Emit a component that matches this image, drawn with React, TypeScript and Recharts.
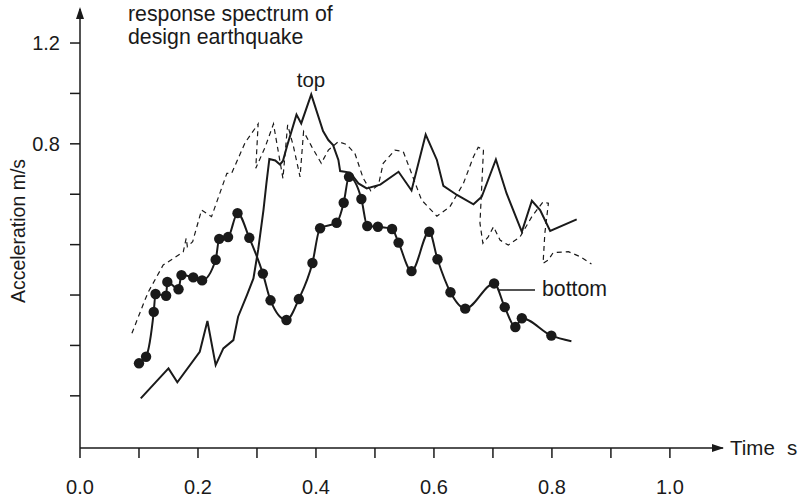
import React from "react";
import { LineChart, Line, XAxis, YAxis } from "recharts";

// bottom response (with dots)
const bottomT = [0.1, 0.112, 0.125, 0.128, 0.146, 0.148, 0.167, 0.172, 0.192, 0.207, 0.23, 0.236, 0.251, 0.267, 0.287, 0.31, 0.323, 0.35, 0.371, 0.394, 0.407, 0.435, 0.447, 0.456, 0.477, 0.487, 0.505, 0.529, 0.54, 0.562, 0.592, 0.606, 0.628, 0.653, 0.702, 0.72, 0.738, 0.749, 0.799, 0.833];
const bottomA = [-0.071, -0.045, 0.133, 0.204, 0.197, 0.252, 0.223, 0.279, 0.27, 0.258, 0.34, 0.423, 0.43, 0.525, 0.427, 0.285, 0.179, 0.101, 0.184, 0.327, 0.465, 0.487, 0.566, 0.669, 0.581, 0.474, 0.471, 0.462, 0.408, 0.295, 0.451, 0.342, 0.211, 0.146, 0.246, 0.152, 0.073, 0.108, 0.039, 0.017];

// top response (solid)
const topT = [0.103, 0.15, 0.165, 0.203, 0.216, 0.23, 0.243, 0.26, 0.268, 0.283, 0.294, 0.302, 0.311, 0.316, 0.321, 0.331, 0.339, 0.344, 0.351, 0.367, 0.375, 0.392, 0.412, 0.421, 0.429, 0.438, 0.441, 0.458, 0.472, 0.486, 0.509, 0.54, 0.562, 0.586, 0.605, 0.616, 0.639, 0.667, 0.681, 0.705, 0.723, 0.749, 0.766, 0.78, 0.797, 0.842];
const topA = [-0.21, -0.091, -0.146, -0.025, 0.097, -0.078, -0.012, 0.021, 0.114, 0.2, 0.266, 0.379, 0.537, 0.643, 0.74, 0.734, 0.718, 0.732, 0.791, 0.916, 0.881, 0.996, 0.851, 0.815, 0.795, 0.736, 0.692, 0.686, 0.643, 0.623, 0.638, 0.689, 0.615, 0.837, 0.736, 0.633, 0.597, 0.56, 0.59, 0.738, 0.604, 0.451, 0.574, 0.537, 0.454, 0.5];

// response spectrum of design earthquake (dashed)
const specT = [0.088, 0.11, 0.116, 0.141, 0.175, 0.18, 0.182, 0.191, 0.206, 0.223, 0.249, 0.257, 0.28, 0.302, 0.298, 0.314, 0.328, 0.344, 0.352, 0.362, 0.373, 0.379, 0.393, 0.409, 0.421, 0.438, 0.452, 0.466, 0.48, 0.493, 0.506, 0.514, 0.534, 0.548, 0.562, 0.579, 0.605, 0.627, 0.65, 0.667, 0.675, 0.684, 0.681, 0.678, 0.683, 0.692, 0.701, 0.712, 0.726, 0.746, 0.766, 0.785, 0.794, 0.788, 0.785, 0.794, 0.802, 0.828, 0.848, 0.867];
const specA = [0.048, 0.18, 0.213, 0.319, 0.371, 0.425, 0.392, 0.412, 0.537, 0.511, 0.683, 0.683, 0.805, 0.879, 0.703, 0.788, 0.879, 0.663, 0.875, 0.788, 0.669, 0.849, 0.788, 0.723, 0.775, 0.809, 0.797, 0.762, 0.664, 0.613, 0.637, 0.723, 0.775, 0.769, 0.683, 0.577, 0.513, 0.55, 0.643, 0.749, 0.786, 0.778, 0.63, 0.485, 0.405, 0.431, 0.471, 0.418, 0.398, 0.431, 0.511, 0.57, 0.564, 0.445, 0.326, 0.339, 0.368, 0.372, 0.352, 0.323];

const xTicks = [0, 0.1, 0.2, 0.3, 0.4, 0.5, 0.6, 0.7, 0.8, 0.9, 1.0];
const xLabelled = [0, 0.2, 0.4, 0.6, 0.8, 1.0];
const yTicks = [-0.2, 0, 0.2, 0.4, 0.6, 0.8, 1.0, 1.2];
const yLabelled = [0.8, 1.2];

const X_MAX = 1.09;
const Y_MIN = -0.407;
const Y_MAX = 1.335;

const zip = (ts: number[], as: number[]) => ts.map((t, i) => ({ t, a: as[i] }));
const bottomData = zip(bottomT, bottomA);
const topData = zip(topT, topA);
const specData = zip(specT, specA);

const ink = "#1a1a1a";

const fmt = (list: number[]) => (v: number) =>
	list.some((l) => Math.abs(l - v) < 1e-9) ? v.toFixed(1) : "";

const BottomDot = (props: any) => {
	const { cx, cy, index } = props;
	if (index >= bottomData.length - 1) return <g key={`d-${index}`} />;
	return <circle key={`d-${index}`} cx={cx} cy={cy} r={5.2} fill={ink} stroke="none" />;
};

export default function App() {
	return (
		<div style={{ position: "absolute", left: 0, top: 0, fontFamily: "'Liberation Sans', Arial, sans-serif" }}>
			<LineChart
				width={802}
				height={501}
				margin={{ top: 9, right: 79, left: 20, bottom: 0 }}
			>
				<XAxis
					dataKey="t"
					type="number"
					domain={[0, X_MAX]}
					ticks={xTicks}
					interval={0}
					allowDataOverflow
					tickFormatter={fmt(xLabelled)}
					tickSize={10}
					tickMargin={22}
					height={53}
					axisLine={{ stroke: ink, strokeWidth: 1.5 }}
					tickLine={{ stroke: ink, strokeWidth: 1.5 }}
					tick={{ fill: ink, fontSize: 20 }}
				/>
				<YAxis
					type="number"
					domain={[Y_MIN, Y_MAX]}
					ticks={yTicks}
					interval={0}
					allowDataOverflow
					tickFormatter={fmt(yLabelled)}
					tickSize={10}
					tickMargin={10}
					width={60}
					axisLine={{ stroke: ink, strokeWidth: 1.5 }}
					tickLine={{ stroke: ink, strokeWidth: 1.5 }}
					tick={{ fill: ink, fontSize: 20 }}
				/>
				<Line
					data={specData}
					dataKey="a"
					type="linear"
					stroke={ink}
					strokeWidth={1.2}
					strokeDasharray="5 4"
					dot={false}
					isAnimationActive={false}
				/>
				<Line
					data={topData}
					dataKey="a"
					type="linear"
					stroke={ink}
					strokeWidth={2}
					dot={false}
					isAnimationActive={false}
				/>
				<Line
					data={bottomData}
					dataKey="a"
					type="monotone"
					stroke={ink}
					strokeWidth={2}
					dot={BottomDot}
					isAnimationActive={false}
				/>
				{/* axis arrows */}
				<polygon points="80,7 76,19 84,19" fill={ink} />
				<polygon points="724,448 712,444 712,452" fill={ink} />
				{/* annotations */}
				<text x={128} y={21} fontSize={21.3} fill={ink}>response spectrum of</text>
				<text x={128} y={44} fontSize={21.3} fill={ink}>design earthquake</text>
				<text x={311} y={87} fontSize={20.5} fill={ink} textAnchor="middle">top</text>
				<line x1={499} y1={290} x2={535} y2={290} stroke={ink} strokeWidth={1.5} />
				<text x={542} y={296} fontSize={21.3} fill={ink}>bottom</text>
				<text y={455} fontSize={20.5} fill={ink}>
					<tspan x={730}>Time</tspan>
					<tspan x={787}>s</tspan>
				</text>
				<text x={25} y={231} fontSize={19.5} fill={ink} textAnchor="middle" transform="rotate(-90 25 231)">
					Acceleration m/s
				</text>
			</LineChart>
		</div>
	);
}
